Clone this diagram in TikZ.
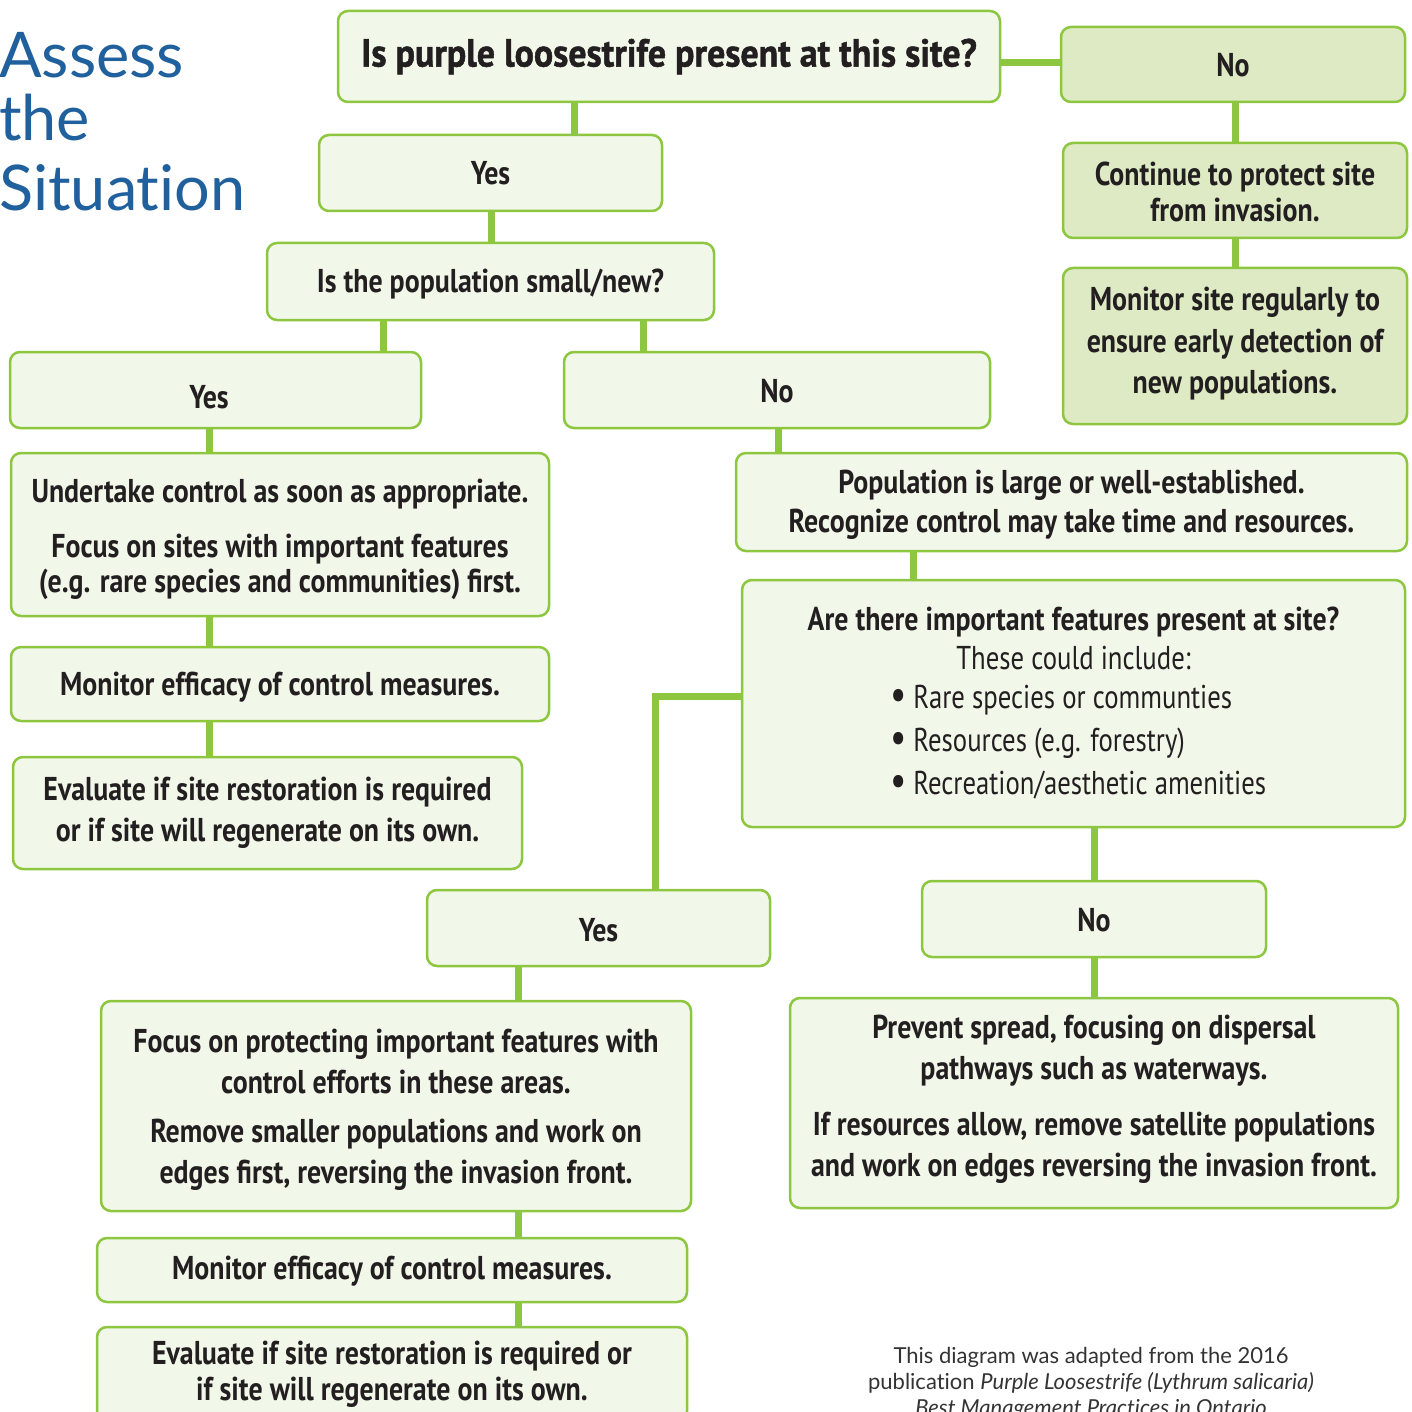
\documentclass[tikz,border=0pt]{standalone}
\usepackage{fontspec}
\usepackage{graphicx}
\usetikzlibrary{backgrounds}
\newfontfamily\boxfont{PT Sans}[FakeStretch=0.845]
\newfontfamily\regfont{PT Sans}[FakeStretch=0.81]
\newfontfamily\qfont{PT Sans}[FakeStretch=0.92,FakeBold=1.2]
\newfontfamily\ttlfont{Lato}[Ligatures={NoCommon,NoDiscretionary}]
\definecolor{lineG}{RGB}{141,198,63}
\definecolor{fillL}{RGB}{241,247,233}
\definecolor{fillD}{RGB}{221,234,196}
\definecolor{txtC}{RGB}{35,31,32}
\definecolor{ttlC}{RGB}{31,96,157}
\definecolor{noteC}{RGB}{51,51,51}
\newcommand\fsz[2]{\fontsize{#1}{#2}\selectfont}
% shift a line down (positive) or up (negative) without changing its size
\newcommand\lw[2]{\raisebox{-#1}[\height][\depth]{#2}}
\newcommand\bul[1]{\hspace*{9pt}\makebox[376pt][l]{\regfont\mdseries\raisebox{-1pt}{\scalebox{1.35}{\textbullet}}\ #1}}
\tikzset{
  box/.style={draw=lineG, line width=2.5pt, rounded corners=10pt, fill=fillL,
    align=center, text=txtC, inner sep=0pt, font=\boxfont\bfseries\fsz{33}{35}},
  dbox/.style={box, fill=fillD},
  link/.style={draw=lineG, line width=7pt},
  ttl/.style={align=left, text=ttlC, inner sep=0pt, font=\ttlfont\fsz{63}{66}},
  note/.style={align=center, text=noteC, inner sep=0pt, font=\ttlfont\fsz{22}{26}},
}
% name, style, left, top, right, bottom, text
\newcommand\mkbox[7]{%
  \node[#2, minimum width={(#5-#3)*1pt}, minimum height={(#6-#4)*1pt}]
    (#1) at ({(#3+#5)/2},{(#4+#6)/2}) {#7};}
\begin{document}
\begin{tikzpicture}[x=1pt,y=-1pt]
\useasboundingbox (0,0) rectangle (1411,1412);
\clip (0,0) rectangle (1411,1412);

\node[ttl, anchor=north west] (title) at (-1,32) {Assess\\[-3pt]the\\[4pt]Situation};

\mkbox{q1}{box, font=\qfont\bfseries\fsz{39}{44}}{338}{11}{1000}{102}{Is purple loosestrife present at this site?}
\mkbox{no1}{dbox}{1061}{27}{1405}{102}{\lw{1pt}{No}}
\mkbox{cont}{dbox, font=\boxfont\bfseries\fsz{33}{36}}{1063}{143}{1407}{238}{\lw{1pt}{Continue to protect site}\\\lw{1pt}{from invasion.}}
\mkbox{mon}{dbox, font=\boxfont\bfseries\fsz{33}{41.5}}{1063}{268}{1407}{424}{\lw{-2pt}{Monitor site regularly to}\\\lw{-2pt}{ensure early detection of}\\\lw{-2pt}{new populations.}}
\mkbox{yes1}{box}{319}{135}{662}{211}{Yes}
\mkbox{pop}{box}{267}{243}{714}{320}{\lw{3pt}{Is the population small/new?}}
\mkbox{yes2}{box}{10}{352}{421}{428}{\hspace*{-13pt}\lw{7pt}{Yes}}
\mkbox{no2}{box}{564}{352}{990}{428}{\lw{1pt}{No}}
\mkbox{undert}{box}{11}{453}{549}{616}{\lw{5pt}{Undertake control as soon as appropriate.}\\[20pt]\lw{5pt}{Focus on sites with important features}\\\lw{5pt}{(e.g. rare species and communities) first.}}
\mkbox{moneff}{box}{11}{647}{549}{721}{\lw{3pt}{Monitor efficacy of control measures.}}
\mkbox{evalL}{box, font=\boxfont\bfseries\fsz{33}{41}}{13}{757}{522}{869}{Evaluate if site restoration is required\\or if site will regenerate on its own.}
\mkbox{large}{box, font=\boxfont\bfseries\fsz{33}{39}}{736}{453}{1407}{551}{\lw{3pt}{Population is large or well-established.}\\\lw{3pt}{Recognize control may take time and resources.}}
\mkbox{feat}{box, font=\boxfont\bfseries\fsz{33}{38}}{742}{580}{1405}{827}{Are there important features present at site?\\[1pt]
  {\regfont\mdseries These could include:}\\[1pt]
  \bul{Rare species or communties}\\[5pt]
  \bul{Resources (e.g. forestry)}\\[5pt]
  \bul{Recreation/aesthetic amenities}}
\mkbox{yes3}{box}{427}{890}{770}{966}{\lw{2pt}{Yes}}
\mkbox{no3}{box}{922}{881}{1266}{957}{\lw{1pt}{No}}
\mkbox{focus}{box, font=\boxfont\bfseries\fsz{33}{41}}{101}{1001}{691}{1211}{\lw{4pt}{Focus on protecting important features with}\\\lw{4pt}{control efforts in these areas.}\\[8pt]\lw{4pt}{Remove smaller populations and work on}\\\lw{4pt}{edges first, reversing the invasion front.}}
\mkbox{prevent}{box, font=\boxfont\bfseries\fsz{33}{41}}{790}{998}{1398}{1208}{\lw{-4pt}{Prevent spread, focusing on dispersal}\\\lw{-4pt}{pathways such as waterways.}\\[15pt]\lw{-4pt}{If resources allow, remove satellite populations}\\\lw{-4pt}{and work on edges reversing the invasion front.}}
\mkbox{moneffB}{box}{97}{1238}{687}{1302}{\lw{1pt}{Monitor efficacy of control measures.}}
\mkbox{evalB}{box, font=\boxfont\bfseries\fsz{33}{36}}{97}{1327}{687}{1421}{Evaluate if site restoration is required or\\if site will regenerate on its own.}

\node[note, anchor=north] (note) at (1091,1347) {This diagram was adapted from the 2016\\publication \textit{Purple Loosestrife (Lythrum salicaria)}\\\textit{Best Management Practices in Ontario}};

\begin{scope}[on background layer]
  \draw[link] (q1.east |- 0,63) -- (no1.west |- 0,63);
  \draw[link] (574,0 |- q1.south) -- (574,0 |- yes1.north);
  \draw[link] (1235,0 |- no1.south) -- (1235,0 |- cont.north);
  \draw[link] (1235,0 |- cont.south) -- (1235,0 |- mon.north);
  \draw[link] (491,0 |- yes1.south) -- (491,0 |- pop.north);
  \draw[link] (383,0 |- pop.south) -- (383,0 |- yes2.north);
  \draw[link] (643,0 |- pop.south) -- (643,0 |- no2.north);
  \draw[link] (209,0 |- yes2.south) -- (209,0 |- undert.north);
  \draw[link] (209,0 |- undert.south) -- (209,0 |- moneff.north);
  \draw[link] (209,0 |- moneff.south) -- (209,0 |- evalL.north);
  \draw[link] (778,0 |- no2.south) -- (778,0 |- large.north);
  \draw[link] (913,0 |- large.south) -- (913,0 |- feat.north);
  \draw[link] (feat.west |- 0,696) -| (655,0 |- yes3.north);
  \draw[link] (1094,0 |- feat.south) -- (1094,0 |- no3.north);
  \draw[link] (1094,0 |- no3.south) -- (1094,0 |- prevent.north);
  \draw[link] (518,0 |- yes3.south) -- (518,0 |- focus.north);
  \draw[link] (518,0 |- focus.south) -- (518,0 |- moneffB.north);
  \draw[link] (518,0 |- moneffB.south) -- (518,0 |- evalB.north);
\end{scope}
\end{tikzpicture}
\end{document}
